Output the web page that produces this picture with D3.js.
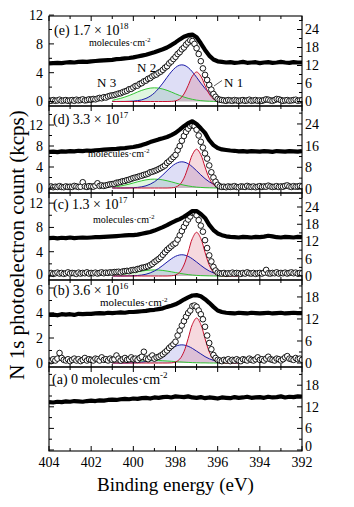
<!DOCTYPE html>
<html><head><meta charset="utf-8">
<script src="https://cdnjs.cloudflare.com/ajax/libs/d3/7.8.5/d3.min.js"></script>
<style>
body{margin:0;background:#fff}
svg{display:block}
text{font-family:"Liberation Serif","Times New Roman",serif;fill:#000}
</style></head>
<body><svg id="chart" width="354" height="507"></svg>
<script>
// ---------------- DATA ----------------
// open-circle spectra (left axis), 404.0 -> 392.0 eV, 0.1 eV step
const circE = [
0.15,0.1,0.2,0.1,0.15,0.25,0.1,0.15,0.2,0.1,
0.15,0.2,0.1,0.25,0.15,0.2,0.3,0.15,0.2,0.3,
0.25,0.35,0.3,0.4,0.5,0.45,0.6,0.55,0.7,0.8,
0.85,0.9,1.0,1.1,1.15,1.3,1.4,1.5,1.7,1.75,
1.95,2.15,2.2,2.45,2.55,2.8,2.9,3.15,3.25,3.5,
3.65,3.75,4.0,4.15,4.4,4.7,4.9,5.3,5.55,5.9,
6.2,6.6,6.85,7.25,7.5,7.9,8.2,8.5,8.4,8.0,
7.4,6.6,5.6,4.6,3.7,3.0,2.3,1.65,1.05,0.65,
0.35,0.25,0.2,0.15,0.1,0.2,0.15,0.1,0.2,0.15,
0.1,0.15,0.2,0.1,0.15,0.25,0.1,0.15,0.2,0.1,
0.15,0.1,0.2,0.3,0.25,0.15,0.1,0.2,0.35,0.3,
0.2,0.1,0.15,0.2,0.1,0.15,0.2,0.25,0.1,0.15,
0.2];
const circD = [
0.2,0.3,0.15,0.25,0.2,0.35,0.2,0.15,0.3,0.2,
0.25,0.2,0.4,0.3,0.2,0.25,1.1,0.3,0.2,0.35,
0.3,0.25,0.45,0.9,0.4,0.5,0.4,0.5,0.6,0.7,
0.75,0.8,1.0,1.05,1.15,1.3,1.35,1.5,1.6,1.75,
1.9,2.0,2.1,2.25,2.35,2.5,2.6,2.75,3.0,3.1,
3.25,3.4,3.6,3.8,4.05,4.3,4.8,5.1,5.5,5.9,
6.3,7.2,8.0,9.0,9.9,10.7,11.3,11.8,12.0,11.8,
11.1,10.0,8.8,7.7,6.6,5.6,4.3,3.0,2.0,1.2,
0.6,0.3,0.2,0.25,0.15,0.3,0.2,0.25,0.35,0.2,
0.15,0.3,0.25,0.2,0.4,0.25,0.2,0.3,0.15,0.25,
0.35,0.2,0.3,0.25,0.45,0.3,0.2,0.25,0.35,0.2,
0.3,0.25,0.4,0.5,0.3,0.2,0.35,0.25,0.3,0.4,
0.3];
const circC = [
0.4,0.5,0.35,0.45,0.55,0.4,0.5,0.35,0.45,0.6,
0.4,0.5,0.45,0.35,0.55,0.4,0.5,0.45,0.6,0.4,
0.5,0.45,0.55,0.4,0.5,0.6,0.45,0.55,0.5,0.6,
0.55,0.65,0.65,0.7,0.6,0.75,0.8,0.85,0.8,0.95,
1.0,1.0,1.15,1.2,1.35,1.4,1.5,1.6,1.8,2.0,
2.3,2.55,2.8,3.1,3.5,3.9,4.3,4.6,4.9,5.2,
5.4,6.0,6.7,7.4,8.1,8.7,9.3,9.8,10.4,10.4,
10.0,9.2,8.3,7.3,5.9,4.6,3.4,2.4,1.5,0.9,
0.55,0.45,0.4,0.5,0.35,0.45,0.4,0.55,0.4,0.5,
0.45,0.35,0.5,0.4,0.6,0.45,0.4,0.5,0.35,0.45,
0.5,0.4,0.55,1.0,0.45,0.4,0.5,0.45,0.6,0.4,
0.5,0.45,0.55,0.4,0.5,0.6,0.45,0.55,0.4,0.5,
0.45];
const circB = [
0.2,0.15,0.3,0.2,0.35,0.8,0.4,0.25,0.2,0.3,
0.15,0.25,0.35,0.2,0.3,0.15,0.25,0.4,0.2,0.3,
0.25,0.2,0.35,0.3,0.2,0.45,0.25,0.3,0.2,0.35,
0.25,0.3,0.6,0.35,0.2,0.3,0.4,0.25,0.3,0.45,
0.3,0.35,0.25,0.4,0.5,0.9,0.35,0.3,0.45,0.6,
0.35,0.45,0.5,0.6,0.7,0.85,1.0,1.2,1.35,1.5,
1.7,2.2,2.6,3.0,3.35,3.7,4.0,4.2,4.55,4.6,
4.5,4.2,3.9,3.5,2.9,2.2,1.6,1.1,0.64,0.4,
0.25,0.2,0.15,0.25,0.2,0.3,0.15,0.25,0.2,0.3,
0.2,0.15,0.3,0.25,0.2,0.35,0.25,0.2,0.3,0.45,
0.25,0.3,0.2,0.35,0.5,0.3,0.25,0.2,0.35,0.3,
0.2,0.3,0.45,0.55,0.35,0.3,0.25,0.4,0.3,0.35,
0.25];

// thick-line spectra (right axis), 404.0 -> 392.0 eV, 0.2 eV step
const thickE = [
12.7,12.8,12.9,12.8,13.0,13.1,13.0,13.2,13.3,13.2,
13.4,13.5,13.6,13.7,13.8,13.9,14.1,14.2,14.4,14.5,
14.7,15.0,15.3,15.6,16.0,16.4,16.9,17.4,18.0,18.8,
19.7,20.7,21.6,22.1,22.3,21.4,19.4,17.2,15.3,14.0,
13.4,13.2,13.0,13.1,12.9,13.0,13.2,12.9,13.0,13.1,
12.8,13.0,13.1,12.9,13.0,13.2,13.0,12.9,13.1,13.0,
13.0];
const thickD = [
13.7,13.8,13.6,13.9,13.8,14.0,13.9,14.1,14.0,14.2,
14.1,14.3,14.4,14.5,14.6,14.7,14.8,15.0,15.1,15.3,
15.5,15.8,16.2,16.7,17.3,17.8,18.3,18.7,19.2,19.9,
20.7,21.9,23.2,24.3,25.0,24.0,22.4,20.7,18.0,16.2,
15.1,14.6,14.4,14.2,14.1,13.9,14.0,13.8,14.0,13.9,
13.8,14.0,13.9,13.7,14.0,13.9,13.8,14.0,13.9,13.8,
14.0];
const thickC = [
13.2,13.3,13.1,13.3,13.2,13.4,13.2,13.3,13.4,13.3,
13.4,13.5,13.5,13.6,13.7,13.8,13.9,14.0,14.1,14.2,
14.2,14.4,14.7,15.0,15.3,15.8,16.4,17.0,17.7,18.5,
19.2,19.8,20.6,21.6,22.6,22.6,21.6,20.2,17.8,16.0,
14.8,14.2,13.8,13.6,13.5,13.4,13.6,13.5,13.4,13.6,
13.5,13.7,14.0,13.8,13.5,13.4,13.6,13.5,13.4,13.6,
13.5];
const thickB = [
13.1,13.2,13.0,13.3,13.2,13.3,13.1,13.4,13.3,13.4,
13.4,13.5,13.6,13.5,13.7,13.6,13.7,13.8,13.7,13.9,
13.9,14.0,14.1,14.2,14.4,14.5,14.7,14.9,15.3,15.6,
16.0,16.6,17.3,17.9,18.4,18.5,18.2,17.4,16.4,15.3,
14.3,13.9,13.7,13.6,13.5,13.7,13.6,13.5,13.7,13.6,
13.5,13.6,13.7,13.5,13.6,13.7,13.5,13.6,13.7,13.6,
13.6];
const thickA = [
13.3,13.2,13.4,13.3,13.5,13.4,13.6,13.5,13.4,13.6,
13.7,13.6,13.8,13.7,13.9,14.0,13.9,14.1,14.2,14.1,
14.3,14.2,14.4,14.5,14.3,14.6,14.5,14.7,14.8,14.6,
14.9,14.8,14.7,14.9,14.6,14.5,14.7,14.4,14.6,14.5,
14.3,14.6,14.5,14.4,14.7,14.5,14.6,14.8,14.5,14.6,
14.7,14.5,14.8,14.6,14.7,14.9,14.6,14.8,14.7,14.9,
14.8];

// fitted components N1, N2, N3 (left axis), 401.0 -> 395.0 eV, 0.2 eV step
const eN1 = [0,0,0,0,0,0,0,0,0,0,0,0,0,0,0.02,0.09,0.35,1.03,2.22,3.52,4.1,3.52,2.22,1.03,0.35,0.09,0.02,0,0,0,0];
const eN2 = [0,0,0.01,0.01,0.03,0.06,0.12,0.23,0.43,0.74,1.2,1.81,2.55,3.36,4.12,4.72,5.05,5.05,4.72,4.12,3.36,2.55,1.81,1.2,0.74,0.43,0.23,0.12,0.06,0.03,0.01];
const eN3 = [0.15,0.3,0.44,0.62,0.83,1.07,1.32,1.55,1.73,1.86,1.9,1.86,1.73,1.55,1.32,1.07,0.83,0.62,0.44,0.3,0.19,0.12,0.07,0.04,0.02,0.01,0,0,0,0,0];
const dN1 = [0,0,0,0,0,0,0,0,0,0,0,0,0,0,0.03,0.16,0.64,1.86,4.0,6.35,7.4,6.35,4.0,1.86,0.64,0.16,0.03,0,0,0,0];
const dN2 = [0,0,0.01,0.01,0.03,0.06,0.12,0.23,0.42,0.73,1.18,1.78,2.5,3.29,4.04,4.63,4.95,4.95,4.63,4.04,3.29,2.5,1.78,1.18,0.73,0.42,0.23,0.12,0.06,0.03,0.01];
const dN3 = [0.14,0.27,0.39,0.55,0.74,0.96,1.18,1.38,1.55,1.66,1.7,1.66,1.55,1.38,1.18,0.96,0.74,0.55,0.39,0.27,0.17,0.11,0.06,0.04,0.02,0.01,0,0,0,0,0];
const cN1 = [0,0,0,0,0,0,0,0,0,0,0,0,0,0,0.03,0.16,0.62,1.81,3.9,6.18,7.2,6.18,3.9,1.81,0.62,0.16,0.03,0,0,0,0];
const cN2 = [0,0,0,0.01,0.02,0.04,0.08,0.16,0.29,0.51,0.82,1.24,1.75,2.3,2.82,3.24,3.47,3.47,3.24,2.82,2.3,1.75,1.24,0.82,0.51,0.29,0.16,0.08,0.04,0.02,0.01];
const cN3 = [0.08,0.16,0.23,0.33,0.44,0.56,0.69,0.81,0.91,0.98,1.0,0.98,0.91,0.81,0.69,0.56,0.44,0.33,0.23,0.16,0.1,0.06,0.04,0.02,0.01,0,0,0,0,0,0];
const bN1 = [0,0,0,0,0,0,0,0,0,0,0,0,0,0,0.01,0.08,0.31,0.9,1.95,3.09,3.6,3.09,1.95,0.9,0.31,0.08,0.01,0,0,0,0];
const bN2 = [0,0,0,0,0.01,0.02,0.03,0.07,0.12,0.21,0.34,0.51,0.73,0.95,1.17,1.34,1.44,1.44,1.34,1.17,0.95,0.73,0.51,0.34,0.21,0.12,0.07,0.03,0.02,0.01,0];
const bN3 = [0.02,0.03,0.05,0.07,0.09,0.11,0.14,0.16,0.18,0.2,0.2,0.2,0.18,0.16,0.14,0.11,0.09,0.07,0.05,0.03,0.02,0.01,0.01,0,0,0,0,0,0,0,0];

// tick labels
const xTickLabels = [404,402,400,398,396,394,392];
const leftTicksE = [0,4,8,12], leftTicksD = [0,4,8,12], leftTicksC = [0,4,8,12], leftTicksB = [0,2,4,6];
const rightTicksE = [0,6,12,18,24], rightTicksD = [0,8,16,24], rightTicksC = [0,6,12,18,24], rightTicksB = [0,6,12,18], rightTicksA = [0,6,12,18];

// panel texts
const panelNames = ["(e) 1.7 × 10","(d) 3.3 × 10","(c) 1.3 × 10","(b) 3.6 × 10","(a) 0 molecules·cm"];
const panelExps = ["18","17","17","16","-2"];
const unitText = "molecules·cm";
const peakNames = ["N 1","N 2","N 3"];

// ---------------- DRAW ----------------
const svg = d3.select("#chart");
const xL = 49, xR = 302;
const x = d3.scaleLinear().domain([404,392]).range([xL,xR]);
const circGrid = circE.map((_,i)=>404 - i*0.1);
const thickGrid = thickE.map((_,j)=>404 - j*0.2);
const fitGrid = eN1.map((_,k)=>401 - k*0.2);

const panels = [
 {top:16,bottom:106,ld:[-0.625,11.875],rd:[-1.5,28.5],lt:leftTicksE,rt:rightTicksE,circ:circE,thick:thickE,fits:[eN1,eN2,eN3],
  lab:[54,35],unit:[89,46],unitSize:10},
 {top:106,bottom:193,ld:[-0.95,15.62],rd:[-1.48,30.63],lt:leftTicksD,rt:rightTicksD,circ:circD,thick:thickD,fits:[dN1,dN2,dN3],
  lab:[53,124],unit:[88,157],unitSize:10},
 {top:193,bottom:280,ld:[-0.66,13.67],rd:[-1.39,28.87],lt:leftTicksC,rt:rightTicksC,circ:circC,thick:thickC,fits:[cN1,cN2,cN3],
  lab:[53,209],unit:[93,223],unitSize:10},
 {top:280,bottom:367,ld:[-0.32,6.64],rd:[-1.09,22.62],lt:leftTicksB,rt:rightTicksB,circ:circB,thick:thickB,fits:[bN1,bN2,bN3],
  lab:[53,295],unit:[100,306],unitSize:11},
 {top:367,bottom:451,ld:[-0.28,23.06],rd:[-0.28,23.06],lt:null,rt:rightTicksA,circ:null,thick:thickA,fits:null,
  lab:[52,384],unit:null}
];

const lineCol = ["#c8102e","#1a1aa8","#33c433"];
const fillCol = ["rgba(215,80,105,0.22)","rgba(90,90,210,0.20)","rgba(70,200,70,0.17)"];

panels.forEach((p,pi)=>{
  const yL = d3.scaleLinear().domain(p.ld).range([p.bottom,p.top]);
  const yR = d3.scaleLinear().domain(p.rd).range([p.bottom,p.top]);
  const g = svg.append("g");
  const cid = "clip"+pi;
  svg.append("clipPath").attr("id",cid).append("rect")
     .attr("x",xL).attr("y",p.top).attr("width",xR-xL).attr("height",p.bottom-p.top);
  const pg = g.append("g").attr("clip-path",`url(#${cid})`);

  if(p.fits){
    const order=[2,1,0];
    order.forEach(k=>{
      const pts = p.fits[k].map((v,i)=>[fitGrid[i],v]);
      pg.append("path").datum(pts)
        .attr("d",d3.area().x(d=>x(d[0])).y0(yL(0)).y1(d=>yL(d[1])).curve(d3.curveCatmullRom))
        .attr("fill",fillCol[k]).attr("stroke","none");
    });
    order.forEach(k=>{
      const pts = p.fits[k].map((v,i)=>[fitGrid[i],v]);
      pg.append("path").datum(pts)
        .attr("d",d3.line().x(d=>x(d[0])).y(d=>yL(d[1])).curve(d3.curveCatmullRom))
        .attr("fill","none").attr("stroke",lineCol[k]).attr("stroke-width",1);
    });
  }
  if(p.circ){
    pg.append("g").selectAll("circle").data(p.circ.map((v,i)=>[circGrid[i],v])).join("circle")
      .attr("cx",d=>x(d[0])).attr("cy",d=>yL(d[1])).attr("r",2.8)
      .attr("fill","#fff").attr("stroke","#000").attr("stroke-width",0.9);
  }
  pg.append("path").datum(p.thick.map((v,j)=>[thickGrid[j],v]))
    .attr("d",d3.line().x(d=>x(d[0])).y(d=>yR(d[1])))
    .attr("fill","none").attr("stroke","#000").attr("stroke-width",4.2)
    .attr("stroke-linejoin","round");

  // frame
  g.append("rect").attr("x",xL).attr("y",p.top).attr("width",xR-xL).attr("height",p.bottom-p.top)
    .attr("fill","none").attr("stroke","#000").attr("stroke-width",1.1);

  // x ticks top & bottom
  d3.range(392,405,1).forEach(e=>{
    const len = (e%2===0)?5:3;
    g.append("line").attr("x1",x(e)).attr("x2",x(e)).attr("y1",p.bottom).attr("y2",p.bottom-len).attr("stroke","#000");
    g.append("line").attr("x1",x(e)).attr("x2",x(e)).attr("y1",p.top).attr("y2",p.top+len).attr("stroke","#000");
  });

  // y ticks helper
  function yTicks(scale, ticks, side, labels){
    const step = ticks[1]-ticks[0];
    const dom = scale.domain();
    const minors = [];
    for(let v=ticks[0]+step/2; v<dom[1]; v+=step) minors.push(v);
    const x0 = side==="left"?xL:xR, dir = side==="left"?1:-1;
    ticks.forEach((v,ti)=>{
      g.append("line").attr("x1",x0).attr("x2",x0+dir*5).attr("y1",scale(v)).attr("y2",scale(v)).attr("stroke","#000");
      if(labels){
        let yy = scale(v);
        if(side==="right" && pi===4 && v===0) yy -= 4;
        if(side==="left" && pi===2 && v===0) yy -= 2;
        if(side==="left" && pi===3 && ti===ticks.length-1) yy += 2;
        g.append("text").attr("x",side==="left"?43:305).attr("y",yy).attr("dy","0.35em")
          .attr("text-anchor",side==="left"?"end":"start").attr("font-size",14).text(v);
      }
    });
    minors.forEach(v=>{
      g.append("line").attr("x1",x0).attr("x2",x0+dir*3).attr("y1",scale(v)).attr("y2",scale(v)).attr("stroke","#000");
    });
  }
  if(p.lt) yTicks(yL,p.lt,"left",true); else yTicks(yR,p.rt,"left",false);
  yTicks(yR,p.rt,"right",true);

  // labels
  const t = g.append("text").attr("x",p.lab[0]).attr("y",p.lab[1]).attr("font-size",14);
  t.append("tspan").text(panelNames[pi]);
  t.append("tspan").attr("dy",-6).attr("font-size",9).text(panelExps[pi]);
  if(p.unit){
    const u = g.append("text").attr("x",p.unit[0]).attr("y",p.unit[1]).attr("font-size",p.unitSize);
    u.append("tspan").text(unitText);
    u.append("tspan").attr("dy",-4).attr("font-size",p.unitSize*0.65).text("-2");
  }
});

// peak names in panel (e)
const peakPos = [[224,87],[137,72],[97,87]];
peakNames.forEach((n,i)=>{
  svg.append("text").attr("x",peakPos[i][0]).attr("y",peakPos[i][1]).attr("font-size",13).text(n);
});
svg.append("line").attr("x1",214).attr("y1",86).attr("x2",222).attr("y2",80.5)
   .attr("stroke","#333").attr("stroke-width",0.8);

// x tick labels
xTickLabels.forEach(v=>{
  svg.append("text").attr("x",x(v)).attr("y",467).attr("text-anchor","middle").attr("font-size",14).text(v);
});
svg.append("text").attr("x",175.5).attr("y",491).attr("text-anchor","middle").attr("font-size",19).text("Binding energy (eV)");
svg.append("text").attr("transform","translate(24,245) rotate(-90)").attr("text-anchor","middle")
   .attr("font-size",21).text("N 1s photoelectron count (kcps)");
</script></body></html>
